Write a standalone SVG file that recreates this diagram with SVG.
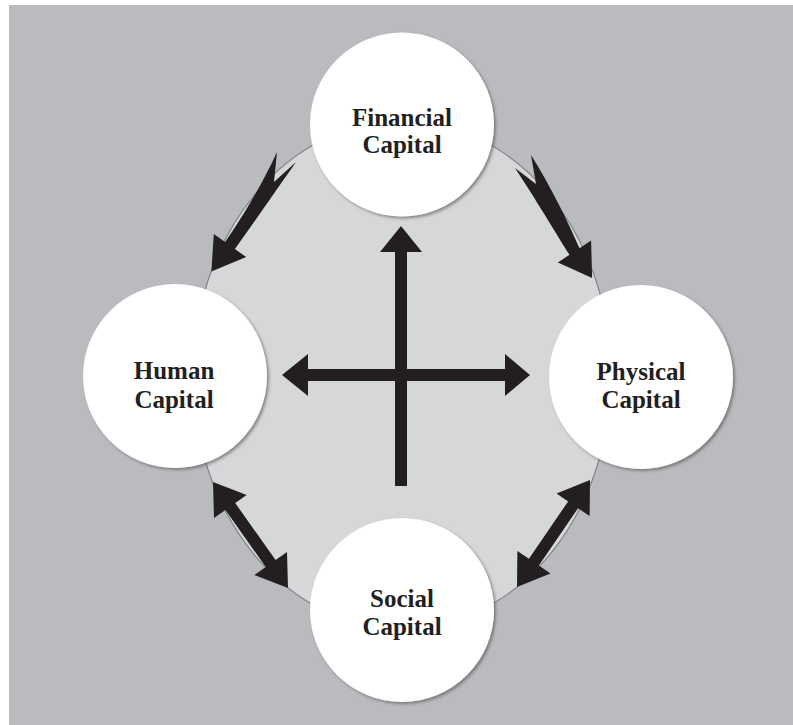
<svg xmlns="http://www.w3.org/2000/svg" width="793" height="725" viewBox="0 0 793 725">
<style>
.node{fill:#ffffff;filter:url(#sh)}
.lbl{font-family:"Liberation Serif","Times New Roman",serif;font-weight:bold;font-size:25px;fill:#231f20;text-anchor:middle}
.arr{fill:#231f20}
</style>
<defs>
<filter id="sh" x="-10%" y="-10%" width="125%" height="125%">
<feDropShadow dx="2" dy="2" stdDeviation="1.5" flood-color="#4a4a4a" flood-opacity="0.55"/>
</filter>
</defs>
<rect x="0" y="0" width="793" height="725" fill="#ffffff"/>
<rect x="9" y="5" width="784" height="720" fill="#b9bbbe"/>
<ellipse cx="402" cy="375" rx="209" ry="254" fill="#d5d7d9" stroke="#828487" stroke-width="1.2"/>
<g id="connectors">
<path class="arr" d="M401,226 L422,252 L407,252 L407,369 L505,369 L505,354 L530,375 L505,396 L505,381 L407,381 L407,486 L395,486 L395,381 L308,381 L308,396 L282,375 L308,354 L308,369 L395,369 L395,252 L380,252 Z"/>
<path class="arr" d="M225.1,242 L213.8,233.9 L211.4,271.4 L246.2,257.1 L234.9,249 C250,228 275,192 296,162 L274,182 L277,152 C262,185 240,221 225.1,242 Z"/>
<path class="arr" d="M579.5,248.2 L591.1,240.5 L592.1,278.1 L557.9,262.5 L569.5,254.8 C555,232 535,198 515,168 L536,184 L531,155 C550,185 568,222 579.5,248.2 Z"/>
<path class="arr" d="M213,482 L246.66,494.94 L235.23,503.02 L275.57,560.04 L287,551.96 L288,588 L254.34,575.06 L265.77,566.98 L225.43,509.96 L214,518.04 Z"/>
<path class="arr" d="M590,480 L589.61,516.05 L578.05,508.16 L538.87,565.6 L550.43,573.49 L517,587 L517.39,550.95 L528.95,558.84 L568.13,501.4 L556.57,493.51 Z"/>
</g>
<g id="financial">
<circle class="node" cx="402" cy="124.5" r="92"/>
<text class="lbl" x="402" y="126">Financial</text>
<text class="lbl" x="402" y="153">Capital</text>
</g>
<g id="human">
<circle class="node" cx="175" cy="376" r="92"/>
<text class="lbl" x="174" y="379">Human</text>
<text class="lbl" x="174" y="408">Capital</text>
</g>
<g id="physical">
<circle class="node" cx="641" cy="377" r="92"/>
<text class="lbl" x="641" y="380">Physical</text>
<text class="lbl" x="641" y="408">Capital</text>
</g>
<g id="social">
<circle class="node" cx="402" cy="610" r="92"/>
<text class="lbl" x="402" y="607">Social</text>
<text class="lbl" x="402" y="635">Capital</text>
</g>
</svg>
